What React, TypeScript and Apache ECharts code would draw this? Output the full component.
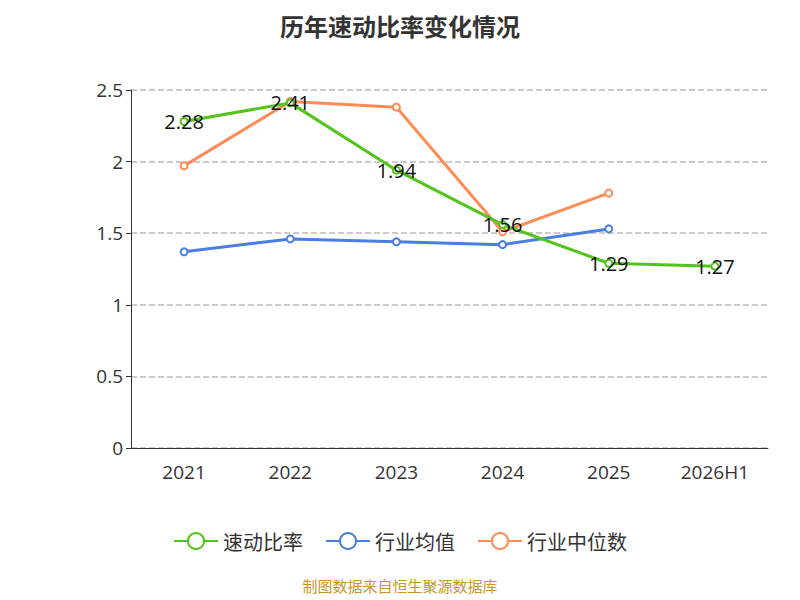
import React, { useEffect, useRef } from "react";
import * as echarts from "echarts";

const categories = ["2021", "2022", "2023", "2024", "2025", "2026H1"];
const quickRatio = [2.28, 2.41, 1.94, 1.56, 1.29, 1.27];
const industryAvg = [1.37, 1.46, 1.44, 1.42, 1.53, null];
const industryMedian = [1.97, 2.42, 2.38, 1.51, 1.78, null];

export default function App() {
  const ref = useRef<HTMLDivElement>(null);
  useEffect(() => {
    const chart = echarts.init(ref.current!, null, { renderer: "svg" });
    const line = (name: string, data: any[], color: string, label: boolean) => ({
      name,
      type: "line",
      data,
      symbol: "emptyCircle",
      symbolSize: 7,
      itemStyle: { color, borderColor: color, borderWidth: 1.5 },
      lineStyle: { color, width: 3 },
      emphasis: { disabled: true },
      label: label
        ? { show: true, position: "inside", fontSize: 20, color: "#111", formatter: (p: any) => p.value.toFixed(2) }
        : { show: false },
      z: label ? 3 : 2,
    });
    chart.setOption({
      animation: false,
      textStyle: { fontFamily: "Open Sans, Noto Sans CJK SC, sans-serif" },
      title: {
        text: "历年速动比率变化情况",
        left: "center",
        top: 0,
        textStyle: { fontSize: 24, fontWeight: "bold", color: "#333", fontFamily: "Noto Sans CJK SC, sans-serif" },
      },
      grid: { left: 123, right: 24, top: 82, bottom: 152 },
      legend: {
        bottom: 44,
        itemWidth: 44,
        itemHeight: 20,
        itemGap: 22,
        textStyle: { fontSize: 20, color: "#333", fontFamily: "Noto Sans CJK SC, sans-serif" },
        data: ["速动比率", "行业均值", "行业中位数"],
      },
      xAxis: {
        type: "category",
        data: categories,
        axisLine: { lineStyle: { color: "#333" } },
        axisTick: { lineStyle: { color: "#333" }, length: 6 },
        axisLabel: { fontSize: 19, color: "#333", margin: 14 },
      },
      yAxis: {
        type: "value",
        min: 0,
        max: 2.5,
        interval: 0.5,
        axisLine: { show: true, lineStyle: { color: "#333" } },
        axisTick: { show: true, lineStyle: { color: "#333" } },
        axisLabel: { fontSize: 19, color: "#333" },
        splitLine: { lineStyle: { type: "dashed", color: "#bbb", width: 1.5 } },
      },
      series: [
        line("速动比率", quickRatio, "#52c41a", true),
        line("行业均值", industryAvg, "#4a7fe0", false),
        line("行业中位数", industryMedian, "#ff8c55", false),
      ],
      graphic: [
        {
          type: "text",
          left: "center",
          top: 570,
          style: { text: "制图数据来自恒生聚源数据库", fontSize: 15, fill: "#c8962a", fontFamily: "Noto Sans CJK SC, sans-serif" },
        },
      ],
    });
    return () => chart.dispose();
  }, []);
  return <div ref={ref} style={{ width: 784, height: 592 }} />;
}
